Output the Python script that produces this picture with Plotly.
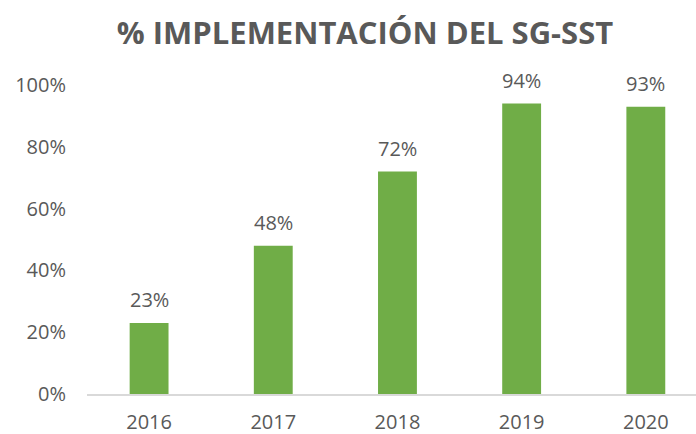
import plotly.graph_objects as go

years = ["2016", "2017", "2018", "2019", "2020"]
values = [0.23, 0.48, 0.72, 0.94, 0.93]
labels = ["23%", "48%", "72%", "94%", "93%"]
y_ticks = [0, 0.2, 0.4, 0.6, 0.8, 1.0]
y_tick_text = ["0%", "20%", "40%", "60%", "80%", "100%"]

GRAY = "#595959"
FONT = "Open Sans"

fig = go.Figure()
fig.add_trace(go.Bar(
    x=years, y=values, width=0.313,
    marker=dict(color="#70AD47", line=dict(width=0)),
    hoverinfo="skip",
))
for i, (y, t) in enumerate(zip(values, labels)):
    fig.add_annotation(x=i, y=y, text=t, showarrow=False, yanchor="middle",
                       yshift=23, font=dict(family=FONT, size=20, color=GRAY))

fig.update_layout(
    width=696, height=434,
    margin=dict(l=87, r=0, t=85, b=40),
    paper_bgcolor="white", plot_bgcolor="white",
    showlegend=False,
    title=dict(text="<b>% IMPLEMENTACIÓN DEL SG-SST</b>", xref="container", x=365/696,
               xanchor="center", yref="container", y=1 - 33/434, yanchor="middle",
               font=dict(family=FONT, size=31, color=GRAY)),
    xaxis=dict(type="category", range=[-0.5, 4.404], showline=True, linecolor="#d9d9d9",
               linewidth=1.5, showgrid=False, ticks="", ticklabelstandoff=9,
               automargin=False,
               tickfont=dict(family=FONT, size=20, color=GRAY), fixedrange=True),
    yaxis=dict(range=[0, 1.0], tickvals=y_ticks, ticktext=y_tick_text, showgrid=False,
               zeroline=False, showline=False, ticks="", ticklabelstandoff=20,
               automargin=False,
               tickfont=dict(family=FONT, size=20, color=GRAY), fixedrange=True),
)
fig.write_html("out.html", config={"displayModeBar": False},
               post_script="document.body.style.margin='0';document.body.style.overflow='hidden';")
